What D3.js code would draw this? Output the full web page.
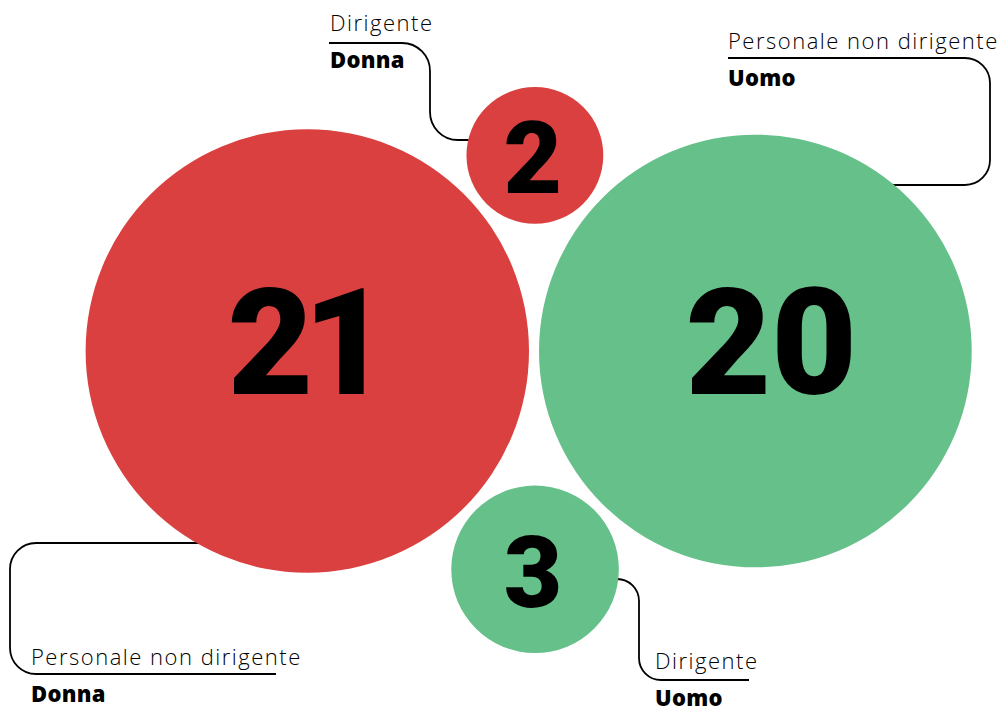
<!DOCTYPE html>
<html>
<head>
<meta charset="utf-8">
<script src="https://cdn.jsdelivr.net/npm/d3@7"></script>
<style>
  html, body { margin: 0; padding: 0; background: #fff; }
  svg { display: block; }
  .lbl { font-family: "Open Sans", Roboto, sans-serif; font-size: 22px; fill: #000; }
  .lbl-role { font-weight: 300; letter-spacing: 1.5px; }
  .lbl-group { font-weight: 800; letter-spacing: 0.3px; }
  .num { font-family: Roboto, sans-serif; font-weight: 900; fill: #000; text-anchor: middle; }
</style>
</head>
<body>
<div id="canvas"></div>
<script>
// dati
const groups = ["Donna", "Uomo"];
const roles = ["Personale non dirigente", "Dirigente"];
const donna = [21, 2];
const uomo = [20, 3];
const colors = ["#DA403F", "#65C08A"];

const width = 1003;
const height = 708;

// nodi: una bolla per ogni ruolo/genere
const nodes = [];
groups.forEach((g, gi) => {
  const vals = gi === 0 ? donna : uomo;
  roles.forEach((r, ri) => {
    nodes.push({ group: g, role: r, value: vals[ri], gi: gi, ri: ri });
  });
});

const radius = d3
  .scaleSqrt()
  .domain([0, d3.max(nodes, d => d.value)])
  .range([0, 221.7]);

const color = d3.scaleOrdinal().domain(groups).range(colors);

// layout: le due bolle grandi in fila, le piccole incastrate sopra/sotto
const pad = 10;
const bigDonna = nodes.find(d => d.group === "Donna" && d.ri === 0);
const bigUomo = nodes.find(d => d.group === "Uomo" && d.ri === 0);
bigDonna.x = 307.3;
bigDonna.y = 351;
bigUomo.x = bigDonna.x + radius(bigDonna.value) + pad + radius(bigUomo.value);
bigUomo.y = bigDonna.y;

// centro alla distanza giusta da entrambe le bolle grandi
const tangent = (a, b, rs, side) => {
  const ra = radius(a.value) + rs + pad;
  const rb = radius(b.value) + rs + pad;
  const dx = b.x - a.x, dy = b.y - a.y;
  const d = Math.hypot(dx, dy);
  const l = (ra * ra - rb * rb + d * d) / (2 * d);
  const h = Math.sqrt(ra * ra - l * l);
  return {
    x: a.x + (dx * l) / d - (side * dy * h) / d,
    y: a.y + (dy * l) / d + (side * dx * h) / d
  };
};

nodes.filter(d => d.ri === 1).forEach(d => {
  const p = tangent(bigDonna, bigUomo, radius(d.value), d.group === "Donna" ? -1 : 1);
  d.x = p.x;
  d.y = p.y;
});

const svg = d3
  .select("#canvas")
  .append("svg")
  .attr("width", width)
  .attr("height", height);

// annotazioni: testo + linea a gomito verso la bolla
const notes = [
  { group: "Donna", role: "Dirigente", tx: 330, ty: 31, pts: [[329, 43], [430, 43], [430, 140], [535, 140]], r: 28 },
  { group: "Uomo", role: "Personale non dirigente", tx: 728, ty: 49, pts: [[728, 58], [990, 58], [990, 185], [755, 185]], r: 25 },
  { group: "Donna", role: "Personale non dirigente", tx: 31, ty: 665, pts: [[307, 543], [10, 543], [10, 674], [276, 674]], r: 26 },
  { group: "Uomo", role: "Dirigente", tx: 655, ty: 669, pts: [[535, 579], [639, 579], [639, 680], [749, 680]], r: 22 }
];

const elbow = (pts, r) => {
  const p = d3.path();
  p.moveTo(pts[0][0], pts[0][1]);
  for (let i = 1; i < pts.length - 1; i++) {
    p.arcTo(pts[i][0], pts[i][1], pts[i + 1][0], pts[i + 1][1], r);
  }
  const last = pts[pts.length - 1];
  p.lineTo(last[0], last[1]);
  return p.toString();
};

svg
  .append("g")
  .selectAll("path")
  .data(notes)
  .join("path")
  .attr("d", d => elbow(d.pts, d.r))
  .attr("fill", "none")
  .attr("stroke", "#000")
  .attr("stroke-width", 1.8);

const labels = svg.append("g").selectAll("g").data(notes).join("g");

labels
  .append("text")
  .attr("class", "lbl lbl-role")
  .attr("x", d => d.tx)
  .attr("y", d => d.ty)
  .text(d => d.role);

labels
  .append("text")
  .attr("class", "lbl lbl-group")
  .attr("x", d => d.tx)
  .attr("y", d => d.ty + 37)
  .text(d => d.group);

// bolle
const bubbles = svg.append("g").selectAll("g").data(nodes).join("g")
  .attr("transform", d => `translate(${d.x},${d.y})`);

bubbles
  .append("circle")
  .attr("r", d => radius(d.value))
  .attr("fill", d => color(d.group));

// il numero grande di "Uomo" sta un po' a destra del centro
bubbles
  .append("text")
  .attr("class", "num")
  .style("font-size", d => (d.ri === 0 ? 148 : 101) + "px")
  .style("letter-spacing", d => (d.value === 21 ? "-10px" : null))
  .attr("x", d => (d.ri === 0 && d.gi === 1 ? 16 : d.value === 21 ? -4 : -2))
  .attr("y", d => (d.ri === 0 ? 43 : 38))
  .text(d => d.value);
</script>
</body>
</html>
